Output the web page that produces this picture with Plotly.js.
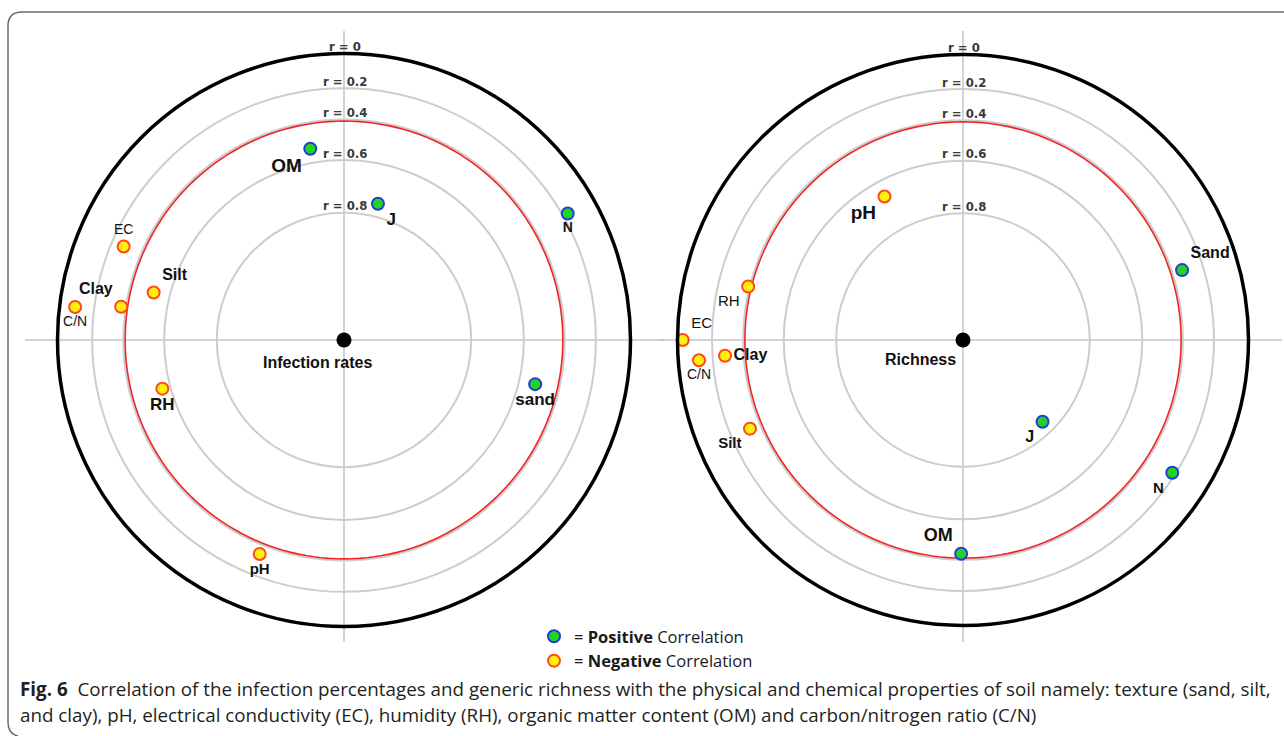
<!DOCTYPE html>
<html>
<head>
<meta charset="utf-8">
<script src="https://cdn.plot.ly/plotly-3.0.1.min.js"></script>
<style>html,body{margin:0;padding:0;background:#fff;}#chart{width:1284px;height:736px;}</style>
</head>
<body>
<div id="chart"></div>
<script>
// ---------- DATA ----------
// Correlation levels drawn as rings (|r|), and their radial position on the diagram scale
const ringLevels = [0, 0.2, 0.4, 0.6, 0.8, 1.0];
const ringScale  = [1.0, 0.879, 0.770, 0.628, 0.444, 0.0];
const ringLabels = ['r = 0', 'r = 0.2', 'r = 0.4', 'r = 0.6', 'r = 0.8'];
const thresholdR = 0.4;

// Panel 1: Infection rates
const infLabels = ['OM', 'J', 'N', 'EC', 'Clay', 'Silt', 'C/N', 'RH', 'sand', 'pH'];
const infR      = [0.53, 0.75, 0.17, -0.28, -0.37, -0.52, -0.09, -0.56, 0.52, -0.34];
const infAngle  = [100, 76, 29.5, 157, 171.5, 166, 173, 195, 347, 248.5];

// Panel 2: Richness
const richLabels = ['pH', 'Sand', 'RH', 'EC', 'C/N', 'Clay', 'Silt', 'J', 'N', 'OM'];
const richR      = [-0.66, 0.335, -0.39, -0.03, -0.12, -0.28, -0.33, 0.82, 0.22, 0.43];
const richAngle  = [118.7, 17.7, 166, 180, 184.4, 183.8, 202.6, 314.2, 327.6, 269.5];

const legendNames = ['= <b>Positive</b> Correlation', '= <b>Negative</b> Correlation'];

// ---------- STYLE (label placement per point) ----------
const infStyle = {
  pos:  ['bottom left','bottom right','bottom center','top center','top left','top right','bottom center','bottom center','bottom center','bottom center'],
  size: [19, 17, 14, 14, 16, 16, 14, 17, 17, 15],
  bold: [1, 1, 1, 0, 1, 1, 0, 1, 1, 1]
};
const richStyle = {
  pos:  ['bottom left','top right','bottom left','top right','bottom center','middle right','bottom left','bottom left','bottom left','top left'],
  size: [19, 16, 15, 15, 14, 16, 15, 16, 15, 18],
  bold: [1, 1, 0, 0, 0, 1, 1, 1, 1, 1]
};

// ---------- helpers ----------
const W = 1284, H = 736;
function scaleR(r) {
  const a = Math.abs(r);
  for (let i = 0; i < ringLevels.length - 1; i++) {
    if (a >= ringLevels[i] && a <= ringLevels[i + 1]) {
      const t = (a - ringLevels[i]) / (ringLevels[i + 1] - ringLevels[i]);
      return ringScale[i] + t * (ringScale[i + 1] - ringScale[i]);
    }
  }
  return 0;
}
const px = x => x / W;
const py = y => 1 - y / H;

const panels = [
  {id: 'polar',  cx: 344, cy: 340, R: 286.5, labels: infLabels, r: infR, ang: infAngle, style: infStyle, title: 'Infection rates', tdx: -27, tdy: 23},
  {id: 'polar2', cx: 963, cy: 340, R: 285.5, labels: richLabels, r: richR, ang: richAngle, style: richStyle, title: 'Richness', tdx: -43, tdy: 19}
];

const posMarker = {size: 12, color: '#22d322', line: {color: '#1f3fd8', width: 2}};
const negMarker = {size: 12, color: '#ffee11', line: {color: '#ff4a10', width: 2}};

const traces = [];
const annotations = [];
const shapes = [];
const layout = {
  width: W, height: H,
  margin: {l: 0, r: 0, t: 0, b: 0},
  paper_bgcolor: '#ffffff',
  showlegend: true,
  legend: {
    x: px(534), y: py(619), xanchor: 'left', yanchor: 'top',
    bgcolor: 'rgba(0,0,0,0)', borderwidth: 0,
    font: {family: 'Open Sans, Liberation Sans, sans-serif', size: 16.5, color: '#1a1a1a'},
    itemwidth: 30, tracegroupgap: 0
  }
};

panels.forEach((p, k) => {
  const sub = k === 0 ? 'polar' : 'polar2';
  // red threshold ring
  const th = [], rr = [];
  for (let a = 0; a <= 360; a += 2) { th.push(a); rr.push(scaleR(thresholdR) - 0.006); }
  traces.push({type: 'scatterpolar', subplot: sub, mode: 'lines', r: rr, theta: th,
    line: {color: '#f02424', width: 1.6}, showlegend: false, hoverinfo: 'skip'});
  // center dot
  traces.push({type: 'scatterpolar', subplot: sub, mode: 'markers', r: [0], theta: [0],
    marker: {size: 15, color: '#000'}, showlegend: false, hoverinfo: 'skip'});
  // points, split by sign
  [true, false].forEach((positive, j) => {
    const idx = p.r.map((v, i) => i).filter(i => (p.r[i] > 0) === positive);
    traces.push({
      type: 'scatterpolar', subplot: sub, mode: 'markers+text',
      name: legendNames[j], legendgroup: positive ? 'pos' : 'neg', showlegend: k === 0,
      r: idx.map(i => scaleR(p.r[i])),
      theta: idx.map(i => p.ang[i]),
      text: idx.map(i => p.style.bold[i] ? '<b>' + p.labels[i] + '</b>' : p.labels[i]),
      textposition: idx.map(i => p.style.pos[i]),
      textfont: {family: 'Liberation Sans, Arial, sans-serif', size: idx.map(i => p.style.size[i]), color: '#111'},
      customdata: idx.map(i => p.r[i]),
      hovertemplate: '%{text}: r = %{customdata}<extra></extra>',
      marker: positive ? posMarker : negMarker
    });
  });
  // polar subplot
  const x0 = p.cx - p.R, x1 = p.cx + p.R, y0 = p.cy - p.R, y1 = p.cy + p.R;
  layout[sub] = {
    domain: {x: [px(x0), px(x1)], y: [py(y1), py(y0)]},
    bgcolor: 'rgba(0,0,0,0)',
    radialaxis: {range: [0, 1], tickvals: ringScale.slice(1, 5), showticklabels: false, ticks: '',
      showline: false, gridcolor: '#cdcdcd', gridwidth: 1.5},
    angularaxis: {showgrid: false, showticklabels: false, ticks: '', linecolor: '#000', linewidth: 3.5, showline: true}
  };
  // cross-hair lines
  shapes.push({type: 'line', xref: 'paper', yref: 'paper', layer: 'below',
    x0: px(k === 0 ? 25 : 660), x1: px(k === 0 ? 665 : 1282), y0: py(p.cy), y1: py(p.cy),
    line: {color: '#c4c4c4', width: 1.5}});
  shapes.push({type: 'line', xref: 'paper', yref: 'paper', layer: 'below',
    x0: px(p.cx), x1: px(p.cx), y0: py(31), y1: py(642),
    line: {color: '#c4c4c4', width: 1.5}});
  // ring labels
  ringLabels.forEach((t, i) => {
    annotations.push({xref: 'paper', yref: 'paper', x: px(p.cx + 1), y: py(p.cy - p.R * ringScale[i]),
      text: '<b>' + t + '</b>', showarrow: false, xanchor: 'center', yanchor: 'middle', yshift: 7,
      font: {family: 'Liberation Sans Narrow, DejaVu Sans Condensed, sans-serif', size: 13, color: '#3a3a3a'}});
  });
  // panel title
  annotations.push({xref: 'paper', yref: 'paper', x: px(p.cx + p.tdx), y: py(p.cy + p.tdy),
    text: '<b>' + p.title + '</b>', showarrow: false, xanchor: 'center', yanchor: 'middle',
    font: {family: 'Liberation Sans, Arial, sans-serif', size: 16, color: '#111'}});
});

// caption
annotations.push({xref: 'paper', yref: 'paper', x: px(18), y: py(689), xanchor: 'left', yanchor: 'middle', showarrow: false, align: 'left',
  text: '<b>Fig. 6</b>  Correlation of the infection percentages and generic richness with the physical and chemical properties of soil namely: texture (sand, silt,',
  font: {family: 'Open Sans, sans-serif', size: 18.8, color: '#231f20'}});
annotations.push({xref: 'paper', yref: 'paper', x: px(18), y: py(715), xanchor: 'left', yanchor: 'middle', showarrow: false, align: 'left',
  text: 'and clay), pH, electrical conductivity (EC), humidity (RH), organic matter content (OM) and carbon/nitrogen ratio (C/N)',
  font: {family: 'Open Sans, sans-serif', size: 18.8, color: '#231f20'}});

// frame (rounded box, right/bottom side outside the picture)
shapes.push({type: 'path', xref: 'paper', yref: 'paper', layer: 'below',
  path: `M ${px(1300)} ${py(12)} L ${px(22)} ${py(12)} Q ${px(8)} ${py(12)} ${px(8)} ${py(26)} L ${px(8)} ${py(722)} Q ${px(8)} ${py(734)} ${px(18)} ${py(736)}`,
  line: {color: '#6a6a6a', width: 1.5}});

layout.annotations = annotations;
layout.shapes = shapes;

Plotly.newPlot('chart', traces, layout, {displayModeBar: false, staticPlot: false});
</script>
</body>
</html>
